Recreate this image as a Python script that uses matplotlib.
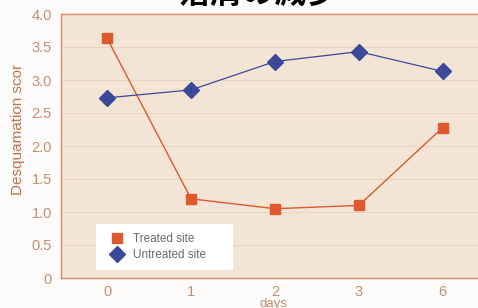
import matplotlib.pyplot as plt
import matplotlib.patches as mpatches
import numpy as np

# data
days = ['0', '1', '2', '3', '6']
treated = [3.63, 1.20, 1.05, 1.10, 2.28]
untreated = [2.73, 2.85, 3.28, 3.43, 3.13]
yticks = [0, 0.5, 1.0, 1.5, 2.0, 2.5, 3.0, 3.5, 4.0]
ytick_labels = ['0', '0.5', '1.0', '1.5', '2.0', '2.5', '3.0', '3.5', '4.0']

orange = '#e0582b'
navy = '#3c4899'
tick_col = '#c98d6e'
spine_col = '#dc8a62'

plt.rcParams['font.family'] = ['Liberation Sans', 'DejaVu Sans']

fig = plt.figure(figsize=(4.78, 3.08), dpi=100, facecolor='#fdfbf9')
ax = fig.add_axes([61/478, 30/308, 1 - 61/478, 264/308])
ax.set_facecolor('#f3e5d5')

x = np.arange(len(days))
ax.plot(x, treated, color=orange, lw=1.0, marker='s', ms=7.5, label='Treated site', zorder=3)
ax.plot(x, untreated, color=navy, lw=0.9, marker='D', ms=8.5, label='Untreated site', zorder=3)

ax.set_xlim(-0.55, 4.42)
ax.set_ylim(0, 4)
ax.set_xticks(x)
ax.set_xticklabels(days)
ax.set_yticks(yticks)
ax.set_yticklabels(ytick_labels)
ax.tick_params(length=0, colors=tick_col, labelsize=10.5)
ax.tick_params(axis='x', pad=5)
ax.tick_params(axis='y', pad=6.5)
ax.grid(axis='y', color='#ebd3bd', lw=0.8)
ax.set_axisbelow(True)
for s in ['left', 'bottom', 'top']:
    ax.spines[s].set_color(spine_col)
    ax.spines[s].set_linewidth(1.0)
ax.spines['right'].set_visible(False)

fig.text(18/478, 1 - 129/308, 'Desquamation scor', color='#c4704c', fontsize=11,
         rotation=90, ha='center', va='center')
fig.text(273/478, 1 - 304/308, 'days', color=tick_col, fontsize=9.5, ha='center', va='center')

# white legend panel
ax.add_patch(mpatches.Rectangle((0.084, 0.03), 0.3285, 0.174, transform=ax.transAxes,
                                facecolor='white', edgecolor='none', zorder=4))
leg = ax.legend(loc='center left', bbox_to_anchor=(0.116, 0.117), frameon=False,
                fontsize=8.5, labelcolor='#6a6a6a', handlelength=1.3, handletextpad=0.7,
                borderpad=0, labelspacing=0.3, borderaxespad=0)
leg.set_zorder(5)
for h in leg.legend_handles:
    h.set_linestyle('none')

fig.text(0.54, 1 - 10/308, '落屑の減少', family=['Noto Sans CJK JP', 'DejaVu Sans'],
         fontsize=23, fontweight='bold', ha='center', va='bottom', color='black')

fig.savefig('out.png', dpi=100, facecolor=fig.get_facecolor())
